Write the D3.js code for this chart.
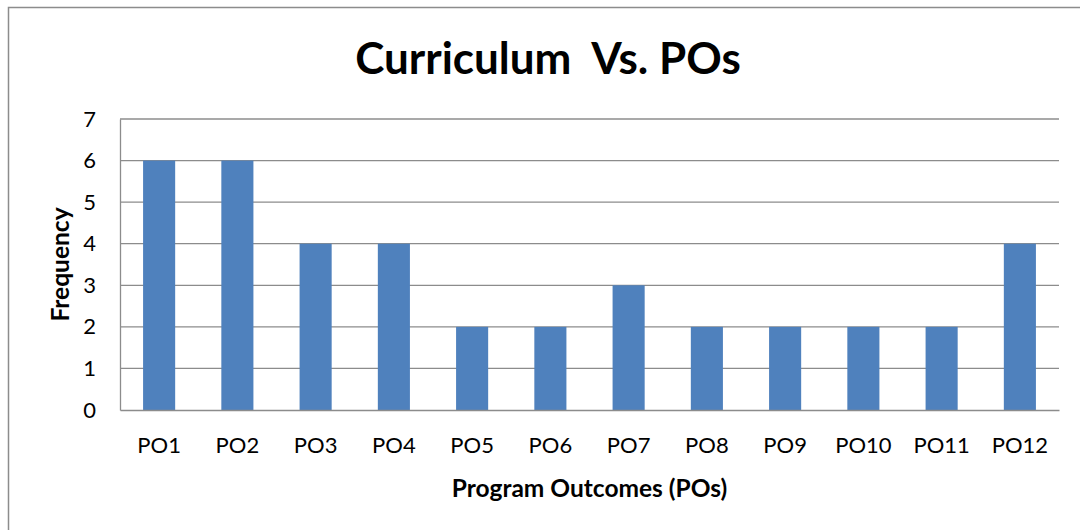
<!DOCTYPE html>
<html>
<head>
<meta charset="utf-8">
<script src="https://cdn.jsdelivr.net/npm/d3@7"></script>
<style>
  body { margin: 0; background: #fff; }
  text { font-family: Lato, "Open Sans", sans-serif; fill: #000; }
</style>
</head>
<body>
<svg id="chart" width="1080" height="530"></svg>
<script>
const categories = ['PO1', 'PO2', 'PO3', 'PO4', 'PO5', 'PO6', 'PO7', 'PO8', 'PO9', 'PO10', 'PO11', 'PO12'];
const frequency = [6, 6, 4, 4, 2, 2, 3, 2, 2, 2, 2, 4];
const yTicks = [0, 1, 2, 3, 4, 5, 6, 7];

const margin = { top: 119, right: 21, bottom: 120, left: 120 };
const width = 1080 - margin.left - margin.right;
const height = 530 - margin.top - margin.bottom;

const svg = d3.select('#chart');

// outer chart border (only left and top visible in the frame)
svg.append('rect')
  .attr('x', 8.5).attr('y', 7.5)
  .attr('width', 1100).attr('height', 600)
  .attr('fill', 'none')
  .attr('stroke', '#8c8c8c')
  .attr('stroke-width', 1.5);

svg.append('text')
  .attr('x', 548).attr('y', 74)
  .attr('text-anchor', 'middle')
  .attr('font-size', 44)
  .attr('font-weight', 'bold')
  .style('white-space', 'pre')
  .text('Curriculum  Vs. POs');

const g = svg.append('g').attr('transform', `translate(${margin.left}, ${margin.top})`);

const x = d3.scaleBand().domain(categories).range([0, width]).padding(0);
const y = d3.scaleLinear().domain([0, 7]).range([height, 0]);

// gridlines
g.append('g')
  .selectAll('line')
  .data(yTicks.filter(d => d > 0))
  .join('line')
  .attr('x1', 0).attr('x2', width)
  .attr('y1', d => y(d)).attr('y2', d => y(d))
  .attr('stroke', '#8c8c8c')
  .attr('stroke-width', 1.3);

// bars
const barW = x.bandwidth() * 0.41;
g.append('g')
  .selectAll('rect')
  .data(frequency)
  .join('rect')
  .attr('x', (d, i) => x(categories[i]) + (x.bandwidth() - barW) / 2)
  .attr('y', d => y(d))
  .attr('width', barW)
  .attr('height', d => height - y(d))
  .attr('fill', '#4f81bd');

// y axis
const yAxis = g.append('g')
  .call(d3.axisLeft(y).tickValues(yTicks).tickSize(0).tickPadding(24).tickFormat(d3.format('d')));
yAxis.select('.domain').attr('stroke', '#8c8c8c').attr('stroke-width', 1.3);
yAxis.selectAll('text').attr('font-size', 22).attr('font-family', 'Lato, "Open Sans", sans-serif');

// x axis
const xAxis = g.append('g')
  .attr('transform', `translate(0, ${height})`)
  .call(d3.axisBottom(x).tickSize(0).tickPadding(27));
xAxis.select('.domain').attr('stroke', '#8c8c8c').attr('stroke-width', 1.3);
xAxis.selectAll('text').attr('font-size', 22).attr('font-family', 'Lato, "Open Sans", sans-serif');

// axis titles
svg.append('text')
  .attr('x', margin.left + width / 2).attr('y', 497)
  .attr('text-anchor', 'middle')
  .attr('font-size', 24.5)
  .attr('font-weight', 'bold')
  .text('Program Outcomes (POs)');

svg.append('text')
  .attr('transform', `translate(69, ${margin.top + height / 2}) rotate(-90)`)
  .attr('text-anchor', 'middle')
  .attr('font-size', 24.5)
  .attr('font-weight', 'bold')
  .text('Frequency');
</script>
</body>
</html>
